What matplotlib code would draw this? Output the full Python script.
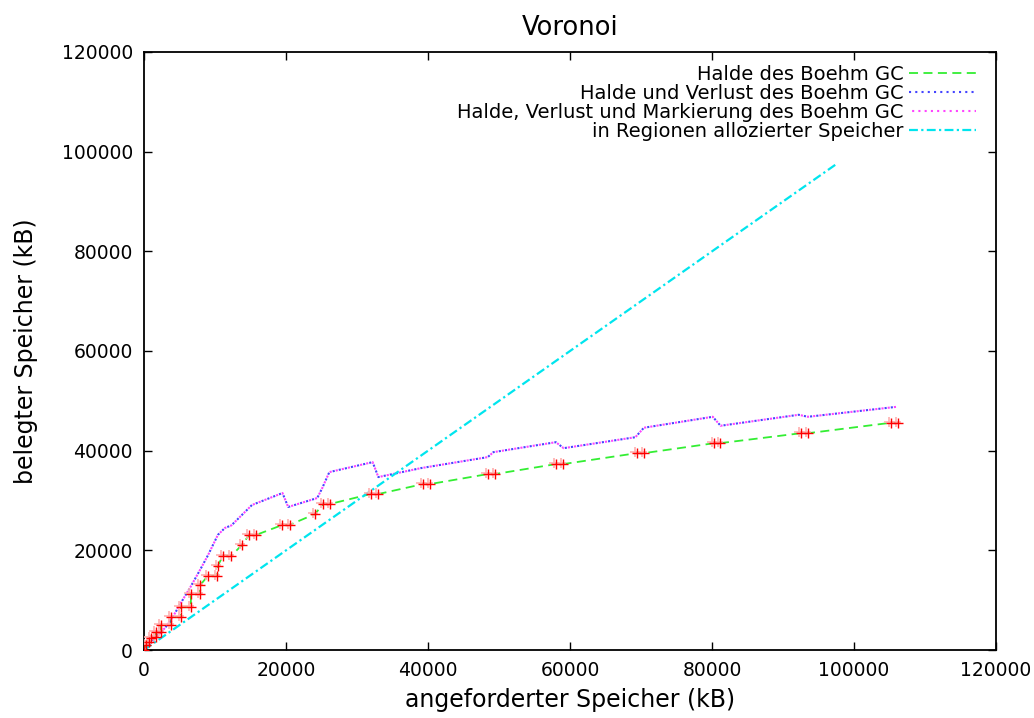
import matplotlib
matplotlib.use("Agg")
import matplotlib.pyplot as plt
import matplotlib.transforms as mtransforms

plt.rcParams["font.family"] = ["DejaVu Sans"]

# ---------------------------------------------------------
# Data (kB)
# ---------------------------------------------------------
# Halde des Boehm GC
heap_x = [0, 300, 700, 1000, 1700, 1700, 2400, 2400, 3800, 3800, 5200, 5200,
          6600, 6600, 7900, 7900, 9000, 10300, 10400, 11100, 12300, 13800,
          14800, 15800, 19500, 20500, 24100, 25200, 26200, 31900, 33000,
          39300, 40300, 48400, 49400, 58000, 59000, 69400, 70400, 80300,
          81100, 92500, 93500, 105200, 106200]
heap_y = [0, 1000, 1600, 2400, 2600, 3600, 3600, 5000, 5000, 6600, 6600, 8600,
          8600, 11200, 11200, 13000, 14900, 14900, 16900, 18900, 18900, 21100,
          23100, 23100, 25100, 25100, 27300, 29300, 29300, 31300, 31300,
          33300, 33300, 35300, 35300, 37300, 37300, 39500, 39500, 41500,
          41500, 43500, 43500, 45600, 45600]

# Halde und Verlust / Halde, Verlust und Markierung (nearly identical)
loss_x = [0, 1000, 2000, 3000, 4000, 5000, 6600, 7900, 9000, 10400, 11400,
          12300, 15200, 19500, 20300, 24400, 25100, 26100, 32200, 33000,
          39000, 48400, 49200, 58000, 59100, 69200, 70400, 80100, 81200,
          92200, 93500, 106000]
loss_y = [0, 1500, 3000, 4500, 6500, 9000, 12800, 16100, 19000, 23100, 24500,
          25000, 29100, 31500, 28700, 30500, 32500, 35700, 37700, 34700,
          36500, 38700, 39700, 41700, 40500, 42700, 44600, 46800, 45000,
          47200, 46800, 48800]

# in Regionen allozierter Speicher
region_x = [0, 97600]
region_y = [0, 97600]

labels = ["Halde des Boehm GC",
          "Halde und Verlust des Boehm GC",
          "Halde, Verlust und Markierung des Boehm GC",
          "in Regionen allozierter Speicher"]

# ---------------------------------------------------------
# Plot
# ---------------------------------------------------------
fig = plt.figure(figsize=(10.34, 7.18), dpi=100)
ax = fig.add_axes([0.1393, 0.0947, 0.8240, 0.8329])

ax.plot(heap_x, heap_y, color="#33ee33", lw=1.3, linestyle=(0, (5, 3)), label=labels[0])
ax.plot(loss_x, loss_y, color="#4444ff", lw=1.5, linestyle=(0, (1, 2)), label=labels[1])
ax.plot(loss_x, loss_y, color="#ff44ff", lw=1.5, linestyle=(1.5, (1, 2)), label=labels[2])
ax.plot(region_x, region_y, color="#00e5ee", lw=1.6, linestyle=(0, (4, 1.5, 1, 1.5)), label=labels[3])

# red "+" markers (with a faint shadow like the original)
shadow = ax.transData + mtransforms.ScaledTranslation(-2 / 100, 1 / 100, fig.dpi_scale_trans)
ax.plot(heap_x, heap_y, "+", color="#ffb0b0", ms=7.5, mew=1.2, transform=shadow, zorder=4)
ax.plot(heap_x, heap_y, "+", color="red", ms=7.5, mew=1.0, zorder=5)

ax.set_xlim(0, 120000)
ax.set_ylim(0, 120000)
ax.set_xticks(range(0, 120001, 20000))
ax.set_yticks(range(0, 120001, 20000))
ax.tick_params(direction="in", length=6, width=1, labelsize=13.5,
               top=True, right=True, pad=8)
for sp in ax.spines.values():
    sp.set_linewidth(1.3)

ax.set_title("Voronoi", fontsize=18.5, pad=12)
ax.set_xlabel("angeforderter Speicher (kB)", fontsize=17)
ax.set_ylabel("belegter Speicher (kB)", fontsize=17)
ax.xaxis.set_label_coords(0.5, -0.063)
ax.yaxis.set_label_coords(-0.125, 0.5)

leg = ax.legend(loc="upper right", bbox_to_anchor=(0.976, 0.978), frameon=False,
                markerfirst=False, fontsize=14, handlelength=3.4,
                handletextpad=0.3, labelspacing=0.0, borderpad=0, borderaxespad=0)

plt.savefig("out.png", dpi=100)
